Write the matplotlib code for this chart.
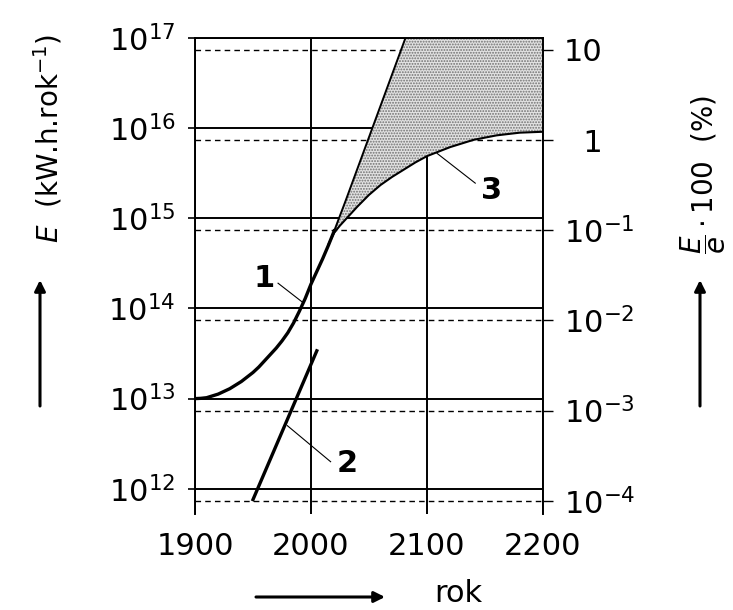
import numpy as np
import matplotlib.pyplot as plt
from matplotlib.ticker import NullLocator

plt.rcParams['font.family'] = ['DejaVu Sans']
plt.rcParams['mathtext.fontset'] = 'dejavusans'
plt.rcParams['hatch.linewidth'] = 0.9

# curve 1: world energy use, log10 of E in kWh per year
years_1 = [1900, 1905, 1910, 1915, 1920, 1925, 1930, 1935, 1940, 1945, 1950,
           1955, 1960, 1965, 1970, 1975, 1980, 1985, 1990, 1995, 2000, 2005,
           2010, 2015, 2020, 2030, 2040, 2050, 2060, 2070, 2080, 2090]
log_E_1 = [13.0, 13.003, 13.01, 13.03, 13.05, 13.08, 13.11, 13.15, 13.19, 13.24, 13.29,
           13.35, 13.42, 13.49, 13.56, 13.64, 13.73, 13.84, 13.97, 14.11, 14.27, 14.41,
           14.55, 14.70, 14.86, 15.2, 15.55, 15.9, 16.25, 16.6, 16.95, 17.3]

# curve 2
years_2 = [1950, 2005]
log_E_2 = [11.88, 13.53]

# curve 3: saturating growth
years_3 = [2015, 2020, 2025, 2030, 2040, 2050, 2060, 2070, 2080, 2090, 2100,
           2120, 2140, 2160, 2180, 2200]
log_E_3 = [14.71, 14.84, 14.92, 14.99, 15.13, 15.26, 15.37, 15.46, 15.54, 15.62, 15.69,
           15.79, 15.87, 15.92, 15.95, 15.96]

x_ticks = [1900, 2000, 2100, 2200]
left_ticks = [1e12, 1e13, 1e14, 1e15, 1e16, 1e17]
left_labels = ['$10^{12}$', '$10^{13}$', '$10^{14}$', '$10^{15}$', '$10^{16}$', '$10^{17}$']
right_ticks = [1e-4, 1e-3, 1e-2, 1e-1, 1, 10]
right_labels = ['$10^{-4}$', '$10^{-3}$', '$10^{-2}$', '$10^{-1}$', '\u20071', '10']

E_top = 1e17
E_bottom = 10 ** 11.72
pct_per_E = 10 ** -15.867   # right scale = E * pct_per_E

E_1 = np.power(10.0, log_E_1)
E_2 = np.power(10.0, log_E_2)
E_3 = np.power(10.0, log_E_3)
yr_1 = np.array(years_1)
yr_3 = np.array(years_3)

fs = 22
W, H = 733, 610
fig = plt.figure(figsize=(W / 100, H / 100), dpi=100)
ax = fig.add_axes([195 / W, 1 - 514 / H, (543 - 195) / W, (514 - 38) / H])
ax2 = ax.twinx()
ax.set_zorder(ax2.get_zorder() + 1)
ax.patch.set_visible(False)

# main axis
ax.set_yscale('log')
ax.set_xlim(1900, 2200)
ax.set_ylim(E_bottom, E_top)
ax.set_xticks(x_ticks)
ax.set_yticks(left_ticks, left_labels)
ax.yaxis.set_minor_locator(NullLocator())
ax.tick_params(axis='x', length=0, pad=13, labelsize=fs)
ax.tick_params(axis='y', direction='out', length=5, width=1.2, pad=9, labelsize=fs)
ax.grid(True, color='k', lw=1.4)
ax.set_axisbelow(True)
ax.spines['bottom'].set_visible(False)
for s in ['left', 'right', 'top']:
    ax.spines[s].set_linewidth(1.4)

# right axis in percent
ax2.set_yscale('log')
ax2.set_ylim(E_bottom * pct_per_E, E_top * pct_per_E)
ax2.set_yticks(right_ticks, right_labels)
ax2.yaxis.set_minor_locator(NullLocator())
ax2.tick_params(axis='y', direction='out', length=7, width=1.0, pad=8, labelsize=fs)
ax2.grid(True, axis='y', color='k', lw=1.0, ls=(0, (4, 3)))
for s in ax2.spines.values():
    s.set_visible(False)

# shaded band between exponential and saturating growth
m = yr_1 >= 2015
band_x = list(yr_1[m]) + [2200] + list(yr_3[::-1])
band_y = list(E_1[m]) + [E_top * 10] + list(E_3[::-1])
ax.fill(band_x, band_y, facecolor='#e2e2e2', edgecolor='#707070', lw=0,
        hatch='......', zorder=2)

early = yr_1 <= 2020
late = yr_1 >= 2020
ax.plot(yr_1[early], E_1[early], color='k', lw=2.4, zorder=3)
ax.plot(yr_1[late], E_1[late], color='k', lw=1.4, zorder=3)
ax.plot(years_2, E_2, color='k', lw=2.4, zorder=3)
ax.plot(years_3, E_3, color='k', lw=1.5, zorder=3)

# curve labels with leader lines
ax.text(1959.3, 10 ** 14.33, '1', fontsize=fs, fontweight='bold', ha='center', va='center')
ax.plot([1971.6, 1992.6], [10 ** 14.28, 10 ** 14.07], color='k', lw=0.8)
ax.text(2031.3, 10 ** 12.28, '2', fontsize=fs, fontweight='bold', ha='center', va='center')
ax.plot([2016.9, 1979.6], [10 ** 12.30, 10 ** 12.70], color='k', lw=0.8)
ax.text(2156.0, 10 ** 15.31, '3', fontsize=fs, fontweight='bold', ha='center', va='center')
ax.plot([2141.6, 2108.7], [10 ** 15.39, 10 ** 15.72], color='k', lw=0.8)

# axis titles and arrows
fig.text(48 / W, 1 - 138 / H, r'$\mathit{E}$  (kW.h.rok$^{-1}$)', fontsize=20,
         rotation=90, ha='center', va='center')
fig.text(703 / W, 1 - 175 / H, r'$\dfrac{\mathit{E}}{\mathit{e}}\cdot 100$  (%)', fontsize=20,
         rotation=90, ha='center', va='center')
fig.text(458 / W, 1 - 594 / H, 'rok', fontsize=fs, ha='center', va='center')

arrow = dict(arrowstyle='-|>', lw=2.2, color='k', mutation_scale=16, shrinkA=0, shrinkB=0)
ax.annotate('', xy=(40 / W, 1 - 280 / H), xytext=(40 / W, 1 - 406 / H),
            xycoords='figure fraction', textcoords='figure fraction', arrowprops=arrow)
ax.annotate('', xy=(700 / W, 1 - 280 / H), xytext=(700 / W, 1 - 406 / H),
            xycoords='figure fraction', textcoords='figure fraction', arrowprops=arrow)
ax.annotate('', xy=(385 / W, 1 - 597 / H), xytext=(256 / W, 1 - 597 / H),
            xycoords='figure fraction', textcoords='figure fraction', arrowprops=arrow)

fig.savefig('out.png', dpi=100)
